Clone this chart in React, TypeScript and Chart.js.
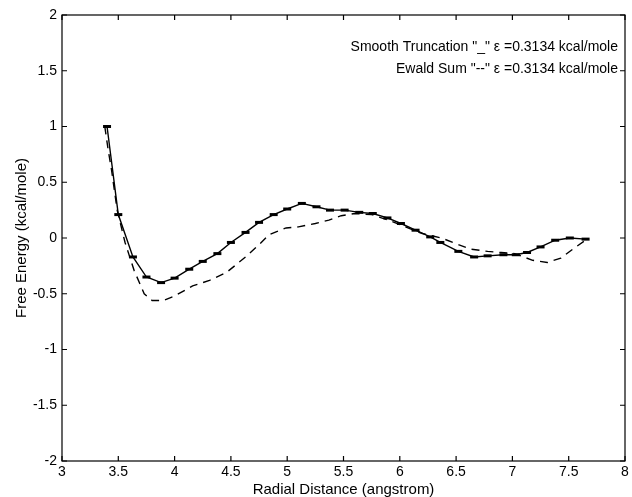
import React, { useEffect, useRef } from "react";
import { Chart, registerables } from "chart.js";

Chart.register(...registerables);

const truncX = [3.40, 3.50, 3.63, 3.75, 3.88, 4.00, 4.13, 4.25, 4.38, 4.50, 4.63, 4.75, 4.88, 5.00, 5.13, 5.26, 5.38, 5.51, 5.64, 5.76, 5.89, 6.01, 6.14, 6.27, 6.36, 6.52, 6.66, 6.78, 6.92, 7.03, 7.13, 7.25, 7.38, 7.51, 7.65];
const truncY = [1.00, 0.21, -0.17, -0.35, -0.40, -0.36, -0.28, -0.21, -0.14, -0.04, 0.05, 0.14, 0.21, 0.26, 0.31, 0.28, 0.25, 0.25, 0.23, 0.22, 0.18, 0.13, 0.07, 0.01, -0.04, -0.12, -0.17, -0.16, -0.15, -0.15, -0.13, -0.08, -0.02, 0.00, -0.01];

const ewaldX = [3.38, 3.41, 3.44, 3.49, 3.56, 3.64, 3.73, 3.80, 3.90, 4.00, 4.16, 4.31, 4.46, 4.63, 4.75, 4.84, 4.99, 5.10, 5.25, 5.37, 5.48, 5.60, 5.75, 5.90, 6.05, 6.20, 6.37, 6.52, 6.63, 6.78, 6.90, 7.02, 7.18, 7.31, 7.43, 7.55, 7.65];
const ewaldY = [1.00, 0.79, 0.61, 0.25, -0.04, -0.29, -0.50, -0.56, -0.56, -0.52, -0.43, -0.38, -0.31, -0.17, -0.06, 0.03, 0.09, 0.10, 0.13, 0.16, 0.20, 0.22, 0.21, 0.16, 0.10, 0.04, 0.00, -0.06, -0.10, -0.12, -0.13, -0.14, -0.20, -0.22, -0.18, -0.09, -0.02];

const xTicks = [3, 3.5, 4, 4.5, 5, 5.5, 6, 6.5, 7, 7.5, 8];
const yTicks = [-2, -1.5, -1, -0.5, 0, 0.5, 1, 1.5, 2];

const legendLines = [
  "Smooth Truncation \"_\" \u03b5 =0.3134 kcal/mole",
  "Ewald Sum \"--\" \u03b5 =0.3134 kcal/mole",
];

const FONT = "'Liberation Sans', Arial, Helvetica, sans-serif";

const framePlugin = {
  id: "frame",
  afterDraw(chart: any) {
    const { ctx, chartArea, scales } = chart;
    const { left, right, top, bottom } = chartArea;
    ctx.save();
    ctx.strokeStyle = "#000";
    ctx.lineWidth = 1.2;
    ctx.strokeRect(left, top, right - left, bottom - top);
    const tl = 5;
    ctx.beginPath();
    for (const v of xTicks) {
      const px = scales.x.getPixelForValue(v);
      ctx.moveTo(px, bottom);
      ctx.lineTo(px, bottom - tl);
      ctx.moveTo(px, top);
      ctx.lineTo(px, top + tl);
    }
    for (const v of yTicks) {
      const py = scales.y.getPixelForValue(v);
      ctx.moveTo(left, py);
      ctx.lineTo(left + tl, py);
      ctx.moveTo(right, py);
      ctx.lineTo(right - tl, py);
    }
    ctx.stroke();
    ctx.fillStyle = "#000";
    ctx.font = `14px ${FONT}`;
    ctx.textAlign = "right";
    ctx.textBaseline = "middle";
    ctx.fillText(legendLines[0], right - 7, top + 32);
    ctx.fillText(legendLines[1], right - 7, top + 54);
    ctx.restore();
  },
};

export default function App() {
  const ref = useRef<HTMLCanvasElement | null>(null);
  useEffect(() => {
    document.body.style.margin = "0";
    const canvas = ref.current;
    if (!canvas) return;
    const chart = new Chart(canvas, {
      type: "scatter",
      data: {
        datasets: [
          {
            label: "Smooth Truncation",
            data: truncX.map((x, i) => ({ x, y: truncY[i] })),
            showLine: true,
            borderColor: "#000",
            backgroundColor: "#000",
            borderWidth: 1.4,
            pointStyle: "line",
            pointRadius: 4,
            pointBorderWidth: 3,
            pointBorderColor: "#000",
            tension: 0,
          },
          {
            label: "Ewald Sum",
            data: ewaldX.map((x, i) => ({ x, y: ewaldY[i] })),
            showLine: true,
            borderColor: "#000",
            borderWidth: 1.4,
            borderDash: [8, 6],
            pointRadius: 0,
            tension: 0,
          },
        ],
      },
      options: {
        responsive: false,
        animation: false,
        layout: { padding: { top: 15, right: 0, left: 13, bottom: 0 } },
        plugins: { legend: { display: false }, tooltip: { enabled: false } },
        scales: {
          x: {
            type: "linear",
            min: 3,
            max: 8,
            afterBuildTicks: (s: any) => {
              s.ticks = xTicks.map((v) => ({ value: v }));
            },
            afterFit: (s: any) => {
              s.height = 36;
              s.paddingLeft = 0;
              s.paddingRight = 0;
            },
            grid: { display: false, drawTicks: false },
            border: { display: false },
            ticks: {
              color: "#000",
              font: { family: FONT, size: 14 },
              padding: 3,
              maxRotation: 0,
              autoSkip: false,
              callback: (v: any) => String(v),
            },
            title: {
              display: true,
              text: "Radial Distance (angstrom)",
              color: "#000",
              font: { family: FONT, size: 15, lineHeight: 1 },
              padding: { top: 0, bottom: 0 },
            },
          },
          y: {
            type: "linear",
            min: -2,
            max: 2,
            afterBuildTicks: (s: any) => {
              s.ticks = yTicks.map((v) => ({ value: v }));
            },
            afterFit: (s: any) => {
              s.width = 49;
              s.paddingTop = 0;
              s.paddingBottom = 0;
            },
            grid: { display: false, drawTicks: false },
            border: { display: false },
            ticks: {
              color: "#000",
              font: { family: FONT, size: 14 },
              padding: 5,
              autoSkip: false,
              callback: (v: any) => String(v),
            },
            title: {
              display: true,
              text: "Free Energy (kcal/mole)",
              color: "#000",
              font: { family: FONT, size: 15 },
              padding: { top: 0, bottom: 0 },
            },
          },
        },
      },
      plugins: [framePlugin],
    });
    return () => chart.destroy();
  }, []);
  return (
    <div style={{ width: 632, height: 497, background: "#fff" }}>
      <canvas ref={ref} width={632} height={497} />
    </div>
  );
}
